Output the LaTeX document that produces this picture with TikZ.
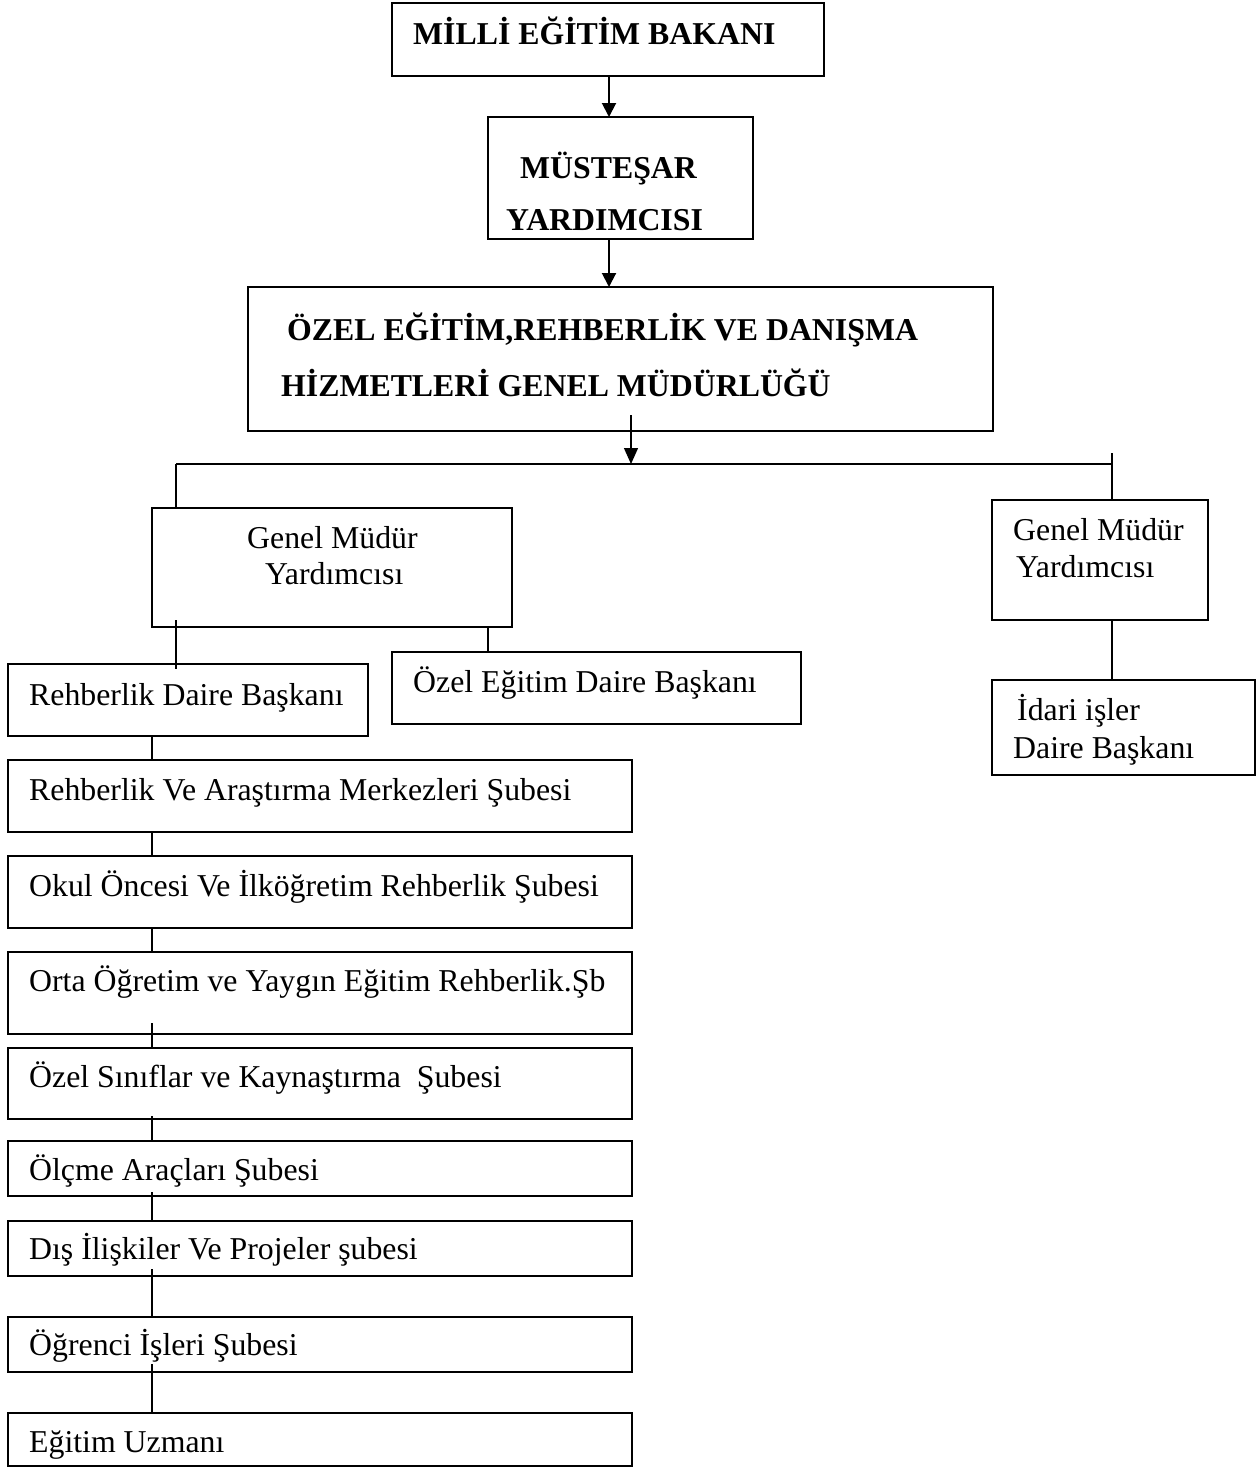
\documentclass[tikz,border=0pt]{standalone}
\usepackage{fontspec}
\setmainfont{Liberation Serif}
\usetikzlibrary{arrows.meta}
\newcommand\mybox[5]{\node[box, minimum width={(#4-#2)*1pt}, minimum height={(#5-#3)*1pt}] (#1) at ({(#2+#4)/2},{(#3+#5)/2}) {};}
\tikzset{
  box/.style={draw, line width=1.8pt, inner sep=0pt, outer sep=0pt, rectangle},
  txt/.style={anchor=base west, inner sep=0pt, font=\fontsize{31.8}{38}\selectfont},
  btxt/.style={txt, font=\fontsize{31.8}{38}\selectfont\bfseries},
  ln/.style={line width=1.3pt},
  arr/.style={line width=2pt, -{Triangle[width=14pt,length=14pt]}},
  arrthin/.style={line width=1.3pt, -{Triangle[width=14pt,length=16pt]}}
}
\begin{document}
\begin{tikzpicture}[x=1pt,y=-1pt]
\useasboundingbox (0,0) rectangle (1260,1468);
% boxes
\mybox{b1}{392}{3}{824}{76}
\mybox{b2}{488}{117}{753}{239}
\mybox{b3}{248}{287}{993}{431}
\mybox{gmyl}{152}{508}{512}{627}
\mybox{gmyr}{992}{500}{1208}{620}
\mybox{idari}{992}{680}{1255}{775}
\mybox{rdb}{8}{664}{368}{736}
\mybox{oed}{392}{652}{801}{724}
\mybox{ram}{8}{760}{632}{832}
\mybox{okul}{8}{856}{632}{928}
\mybox{orta}{8}{952}{632}{1034}
\mybox{ozs}{8}{1048}{632}{1119}
\mybox{olc}{8}{1141}{632}{1196}
\mybox{dis}{8}{1221}{632}{1276}
\mybox{ogr}{8}{1317}{632}{1372}
\mybox{egu}{8}{1413}{632}{1466}
% texts
\node[btxt] (t1) at (413,44) {MİLLİ EĞİTİM BAKANI};
\node[btxt] (t2a) at (520,178) {MÜSTEŞAR};
\node[btxt] (t2b) at (506,230) {YARDIMCISI};
\node[btxt] (t3a) at (287,340) {ÖZEL EĞİTİM,REHBERLİK VE DANIŞMA};
\node[btxt] (t3b) at (281,396) {HİZMETLERİ GENEL MÜDÜRLÜĞÜ};
\node[txt] (tgl1) at (247,548) {Genel Müdür};
\node[txt] (tgl2) at (265,584) {Yardımcısı};
\node[txt] (tgr1) at (1013,540) {Genel Müdür};
\node[txt] (tgr2) at (1016,577) {Yardımcısı};
\node[txt] (tid1) at (1017,720) {İdari işler};
\node[txt] (tid2) at (1013,758) {Daire Başkanı};
\node[txt] (trdb) at (29,705) {Rehberlik Daire Başkanı};
\node[txt] (toed) at (413,692) {Özel Eğitim Daire Başkanı};
\node[txt] (tram) at (29,800) {Rehberlik Ve Araştırma Merkezleri Şubesi};
\node[txt] (tokul) at (29,896) {Okul Öncesi Ve İlköğretim Rehberlik Şubesi};
\node[txt] (torta) at (29,991) {Orta Öğretim ve Yaygın Eğitim Rehberlik.Şb};
\node[txt] (tozs) at (29,1087) {Özel Sınıflar ve Kaynaştırma\ \ Şubesi};
\node[txt] (tolc) at (29,1180) {Ölçme Araçları Şubesi};
\node[txt] (tdis) at (29,1259) {Dış İlişkiler Ve Projeler şubesi};
\node[txt] (togr) at (29,1355) {Öğrenci İşleri Şubesi};
\node[txt] (tegu) at (29,1452) {Eğitim Uzmanı};
% connector coordinates
\coordinate (xa) at (609,0);
\coordinate (xb) at (631,0);
\coordinate (busl) at (176,464);
\coordinate (busr) at (1112,464);
\coordinate (rtop) at (1112,453);
\coordinate (xo) at (488,0);
\coordinate (xc) at (152,0);
% connectors
\draw[arr] (b1.south -| xa) -- (b2.north -| xa);
\draw[arr] (b2.south -| xa) -- (b3.north -| xa);
\draw[arrthin, shorten <=-16pt] (b3.south -| xb) -- (xb |- busl);
\draw[ln] (busl) -- (busr);
\draw[ln] (busl) -- (gmyl.north -| busl);
\draw[ln] (rtop) -- (gmyr.north -| rtop);
\draw[ln, shorten <=-7pt, shorten >=-5pt] (gmyl.south -| busl) -- (rdb.north -| busl);
\draw[ln] (gmyl.south -| xo) -- (oed.north -| xo);
\draw[ln] (gmyr.south -| rtop) -- (idari.north -| rtop);
\draw[ln] (rdb.south -| xc) -- (ram.north -| xc);
\draw[ln] (ram.south -| xc) -- (okul.north -| xc);
\draw[ln] (okul.south -| xc) -- (orta.north -| xc);
\draw[ln, shorten <=-11pt] (orta.south -| xc) -- (ozs.north -| xc);
\draw[ln, shorten <=-3pt] (ozs.south -| xc) -- (olc.north -| xc);
\draw[ln, shorten <=-4pt] (olc.south -| xc) -- (dis.north -| xc);
\draw[ln, shorten <=-7pt] (dis.south -| xc) -- (ogr.north -| xc);
\draw[ln, shorten <=-8pt] (ogr.south -| xc) -- (egu.north -| xc);
\end{tikzpicture}
\end{document}
